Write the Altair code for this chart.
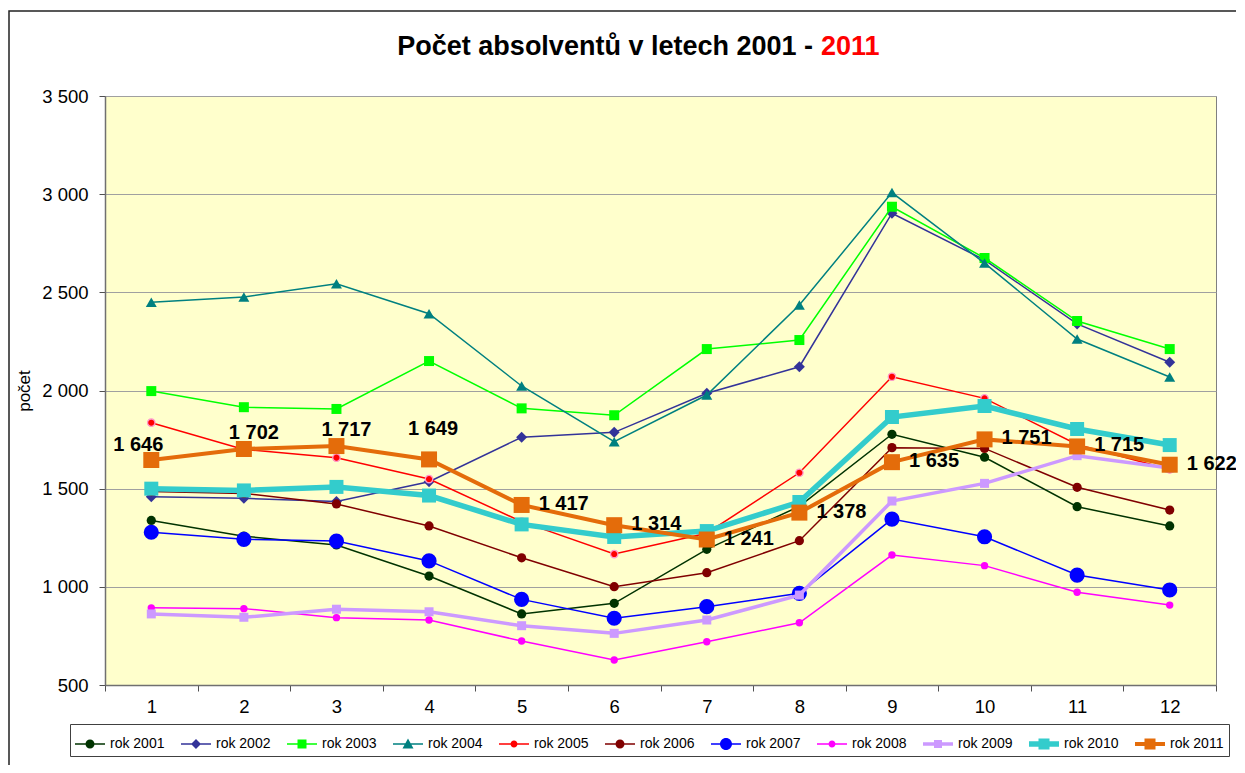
import altair as alt
import pandas as pd

# ---------------- data ----------------
months = [1, 2, 3, 4, 5, 6, 7, 8, 9, 10, 11, 12]
series_names = ["rok 2001", "rok 2002", "rok 2003", "rok 2004", "rok 2005", "rok 2006",
                "rok 2007", "rok 2008", "rok 2009", "rok 2010", "rok 2011"]

rok_2001 = [1338, 1258, 1213, 1055, 862, 916, 1191, 1410, 1777, 1660, 1408, 1310]
rok_2002 = [1459, 1451, 1435, 1535, 1762, 1787, 1986, 2121, 2903, 2665, 2339, 2144]
rok_2003 = [1997, 1915, 1906, 2150, 1909, 1874, 2211, 2257, 2936, 2675, 2354, 2211]
rok_2004 = [2450, 2476, 2544, 2391, 2023, 1739, 1977, 2435, 3008, 2649, 2262, 2069]
rok_2005 = [1836, 1700, 1658, 1549, 1332, 1167, 1273, 1581, 2070, 1960, 1725, 1598]
rok_2006 = [1485, 1476, 1422, 1310, 1148, 1001, 1072, 1235, 1709, 1705, 1507, 1391]
rok_2007 = [1278, 1242, 1233, 1132, 936, 840, 899, 967, 1345, 1255, 1060, 984]
rok_2008 = [893, 889, 843, 831, 724, 627, 720, 817, 1162, 1108, 972, 907]
rok_2009 = [862, 845, 886, 873, 802, 763, 831, 958, 1437, 1527, 1668, 1605]
rok_2010 = [1500, 1491, 1509, 1465, 1318, 1254, 1284, 1432, 1865, 1921, 1804, 1722]
rok_2011 = [1646, 1702, 1717, 1649, 1417, 1314, 1241, 1378, 1635, 1751, 1715, 1622]

all_values = [rok_2001, rok_2002, rok_2003, rok_2004, rok_2005, rok_2006,
              rok_2007, rok_2008, rok_2009, rok_2010, rok_2011]

y_ticks = [500, 1000, 1500, 2000, 2500, 3000, 3500]
x_tick_positions = [0.5, 1, 1.5, 2, 2.5, 3, 3.5, 4, 4.5, 5, 5.5, 6, 6.5, 7, 7.5, 8, 8.5,
                    9, 9.5, 10, 10.5, 11, 11.5, 12, 12.5]

title_main = "Počet absolventů v letech 2001 -"
title_red = "2011"
y_title = "počet"

rows = []
for name, vals in zip(series_names, all_values):
    for m, v in zip(months, vals):
        rows.append({"series": name, "m": m, "value": v})
df = pd.DataFrame(rows)

# ---------------- styles ----------------
FONT = "Liberation Sans"
colors = ["#003300", "#333399", "#00FF00", "#008080", "#FF0000", "#800000",
          "#0000FF", "#FF00FF", "#CC99FF", "#33CCCC", "#E46C0A"]
line_widths = [1.5, 1.5, 1.5, 1.5, 1.5, 1.5, 1.5, 1.5, 3.5, 5.5, 4.0]
marker_shapes = ["circle", "diamond", "square", "triangle-up", "circle", "circle",
                 "circle", "circle", "square", "square", "square"]
marker_sizes = [85, 120, 100, 120, 55, 85, 230, 55, 81, 196, 256]
marker_strokes = [None, None, None, None, "#FF99CC", None, None, None, None, None, None]

# legend symbols: line stub + marker, built as custom SVG paths
LEG_SIZE = 900
U = (LEG_SIZE ** 0.5) / 2.0
legend_line_px = [1.6, 1.6, 1.6, 1.6, 1.6, 1.6, 1.6, 1.6, 3.5, 5.5, 4.0]
legend_marker_px = [9, 10, 9, 11, 7, 9, 12, 7, 8, 11, 11]


def legend_path(line_px, marker, mk_px):
    t = line_px / 2.0 / U
    p = f"M-1,{-t:.3f}L1,{-t:.3f}L1,{t:.3f}L-1,{t:.3f}Z"
    r = mk_px / 2.0 / U
    if marker == "circle":
        p += f"M{-r:.3f},0A{r:.3f},{r:.3f},0,1,1,{r:.3f},0A{r:.3f},{r:.3f},0,1,1,{-r:.3f},0Z"
    elif marker == "square":
        p += f"M{-r:.3f},{-r:.3f}L{r:.3f},{-r:.3f}L{r:.3f},{r:.3f}L{-r:.3f},{r:.3f}Z"
    elif marker == "diamond":
        p += f"M0,{-r:.3f}L{r:.3f},0L0,{r:.3f}L{-r:.3f},0Z"
    else:
        p += f"M0,{-r:.3f}L{r:.3f},{0.8 * r:.3f}L{-r:.3f},{0.8 * r:.3f}Z"
    return p


legend_paths = [legend_path(lw, mk, px) for lw, mk, px in
                zip(legend_line_px, marker_shapes, legend_marker_px)]

# ---------------- encodings ----------------
X = alt.X(
    "m:Q",
    scale=alt.Scale(domain=[0.5, 12.5], nice=False, zero=False),
    axis=alt.Axis(
        title=None,
        values=x_tick_positions,
        labelExpr="datum.value % 1 === 0 ? format(datum.value, 'd') : ''",
        tickOpacity={"condition": {"test": "datum.value % 1 !== 0", "value": 1}, "value": 0},
        grid=False,
        labelOverlap=False,
        labelFlush=False,
        tickSize=6,
        labelPadding=6,
        labelFontSize=18.5,
        labelFont=FONT,
        labelColor="black",
        domainColor="#707070",
        domainWidth=1.5,
        tickColor="#505050",
    ),
)
Y = alt.Y(
    "value:Q",
    scale=alt.Scale(domain=[500, 3500], nice=False, zero=False),
    axis=alt.Axis(
        title=y_title,
        values=y_ticks,
        labelExpr="replace(format(datum.value, ','), ',', ' ')",
        grid=True,
        gridColor="#A0A0A0",
        gridWidth=1,
        tickSize=6,
        labelPadding=11,
        labelFontSize=18.5,
        labelFont=FONT,
        labelColor="black",
        titleFont=FONT,
        titleFontSize=17,
        titleFontWeight="normal",
        titleColor="black",
        titlePadding=8,
        domainColor="#707070",
        domainWidth=1.5,
        tickColor="#505050",
    ),
)

base = alt.Chart(df)
layers = []

# outer frame of the chart area (decoration)
frame = alt.Chart(pd.DataFrame({"f": [0]})).mark_rect(
    fillOpacity=0, stroke="#222222", strokeWidth=1.5
).encode(x=alt.value(-96), y=alt.value(-85), x2=alt.value(1300), y2=alt.value(900))
layers.append(frame)

for i, name in enumerate(series_names):
    sub = base.transform_filter(alt.datum.series == name)
    layers.append(sub.mark_line(color=colors[i], strokeWidth=line_widths[i]).encode(x=X, y=Y))
    kw = dict(shape=marker_shapes[i], size=marker_sizes[i], filled=True,
              color=colors[i], opacity=1)
    if marker_strokes[i]:
        kw.update(stroke=marker_strokes[i], strokeWidth=1.3)
    layers.append(sub.mark_point(**kw).encode(x=X, y=Y))

# data labels of the 2011 series
lab = base.transform_filter(alt.datum.series == "rok 2011").transform_calculate(
    lbl="replace(format(datum.value, ','), ',', ' ')"
)
txt = dict(fontSize=20, fontWeight="bold", font=FONT, color="black")
layers.append(lab.transform_filter("datum.m == 1").mark_text(dx=-13, dy=-15, **txt)
              .encode(x=X, y=Y, text="lbl:N"))
layers.append(lab.transform_filter("datum.m >= 2 && datum.m <= 3").mark_text(dx=10, dy=-16, **txt)
              .encode(x=X, y=Y, text="lbl:N"))
layers.append(lab.transform_filter("datum.m == 4").mark_text(dx=4, dy=-30, **txt)
              .encode(x=X, y=Y, text="lbl:N"))
layers.append(lab.transform_filter("datum.m >= 5").mark_text(align="left", dx=17, dy=-1, **txt)
              .encode(x=X, y=Y, text="lbl:N"))

# legend-only layer (no visible marks)
LEG = alt.Legend(
    title=None,
    orient="none",
    legendX=-35,
    legendY=628,
    direction="horizontal",
    columns=11,
    symbolSize=LEG_SIZE,
    symbolStrokeWidth=0,
    symbolOpacity=1,
    labelFontSize=14,
    labelFont=FONT,
    labelColor="black",
    labelOffset=5,
    labelLimit=200,
    columnPadding=16,
    padding=5,
    strokeColor="#404040",
    fillColor="white",
)
legend_layer = base.transform_filter("false").mark_point(filled=True, opacity=1, size=LEG_SIZE).encode(
    x=X, y=Y,
    color=alt.Color("series:N", scale=alt.Scale(domain=series_names, range=colors), legend=LEG),
    shape=alt.Shape("series:N", scale=alt.Scale(domain=series_names, range=legend_paths), legend=LEG),
)
layers.append(legend_layer)

# title (two colours)
t1 = alt.Chart(pd.DataFrame({"t": [title_main]})).mark_text(
    align="right", baseline="alphabetic", fontSize=27, fontWeight="bold", font=FONT, color="black"
).encode(x=alt.value(708), y=alt.value(-41), text="t:N")
t2 = alt.Chart(pd.DataFrame({"t": [title_red]})).mark_text(
    align="left", baseline="alphabetic", fontSize=27, fontWeight="bold", font=FONT, color="#FF0000"
).encode(x=alt.value(716), y=alt.value(-41), text="t:N")
layers += [t1, t2]

chart = alt.layer(*layers).properties(
    width=1111,
    height=589,
    autosize=alt.AutoSizeParams(type="none"),
    padding={"left": 97, "top": 88, "right": 20, "bottom": 80},
    background="white",
).configure_view(fill="#FFFFCC", stroke="#808080", strokeWidth=1)

chart.save("out.html", embed_options={"renderer": "svg", "actions": False})
